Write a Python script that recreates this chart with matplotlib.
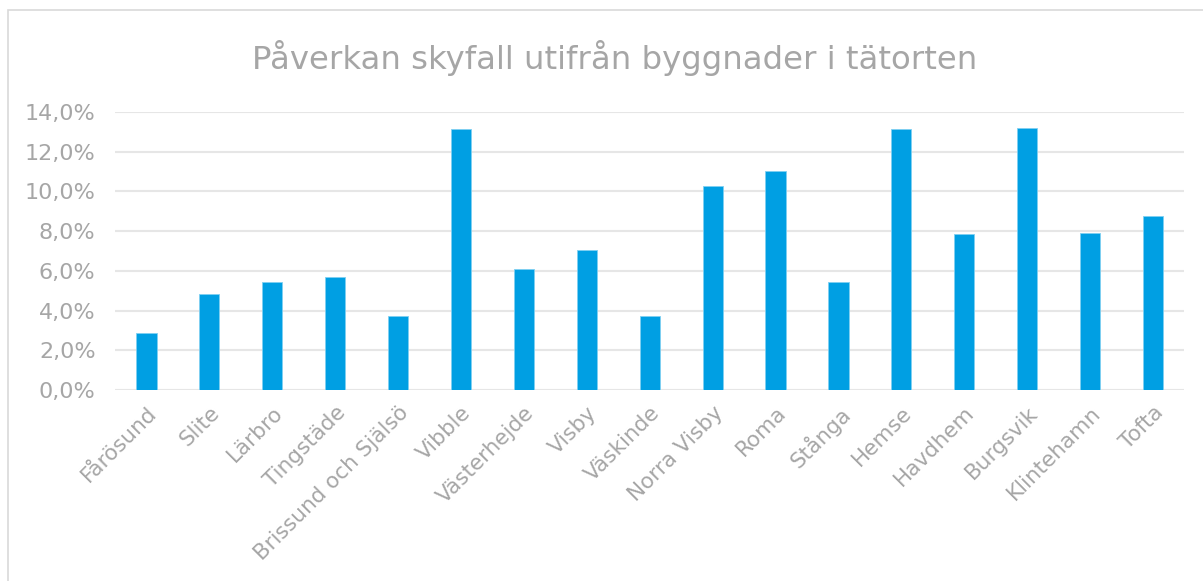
import matplotlib
matplotlib.use('Agg')
import matplotlib.pyplot as plt
import matplotlib.ticker as ticker
from matplotlib.patches import Rectangle
import numpy as np

# Data
orter = ['Fårösund', 'Slite', 'Lärbro', 'Tingstäde', 'Brissund och Själsö', 'Vibble',
         'Västerhejde', 'Visby', 'Väskinde', 'Norra Visby', 'Roma', 'Stånga', 'Hemse',
         'Havdhem', 'Burgsvik', 'Klintehamn', 'Tofta']
andel = [0.0287, 0.0482, 0.0545, 0.0567, 0.0373, 0.1312, 0.0608, 0.0705, 0.0372,
         0.1027, 0.1102, 0.0543, 0.1312, 0.0785, 0.1317, 0.0790, 0.0875]
y_ticks = [0.0, 0.02, 0.04, 0.06, 0.08, 0.10, 0.12, 0.14]

grey = '#a6a6a6'
bar_color = '#009fe3'

fig = plt.figure(figsize=(12.03, 5.81), dpi=100)
ax = fig.add_axes([0.0956, 0.3287, 0.889, 0.4785])

x = np.arange(len(orter))
ax.bar(x, andel, width=0.32, color=bar_color, edgecolor='#7fd0f2', linewidth=0.6, zorder=3)

ax.set_ylim(0, 0.14)
ax.set_xlim(-0.5, len(orter) - 0.5)
ax.set_yticks(y_ticks)
ax.yaxis.set_major_formatter(ticker.FuncFormatter(lambda v, p: f'{v * 100:.1f}%'.replace('.', ',')))
ax.grid(axis='y', color='#e6e6e6', linewidth=1.5, zorder=0)
ax.set_xticks(x)
ax.set_xticklabels(orter, rotation=45, ha='right', rotation_mode='anchor')
ax.tick_params(axis='x', length=0, labelsize=15.5, labelcolor=grey, pad=9)
ax.tick_params(axis='y', length=0, labelsize=16, labelcolor=grey, pad=14)

# remove spines
for pos in ['right', 'top', 'bottom', 'left']:
    ax.spines[pos].set_visible(False)

fig.text(0.511, 0.9, 'Påverkan skyfall utifrån byggnader i tätorten',
         ha='center', va='center', fontsize=23.3, color=grey)

# light frame around the chart area
fig.patches.append(Rectangle((0.007, -0.05), 1.1, 1.033, transform=fig.transFigure,
                             fill=False, edgecolor='#d9d9d9', linewidth=1.2))

plt.savefig('out.png', dpi=100)
